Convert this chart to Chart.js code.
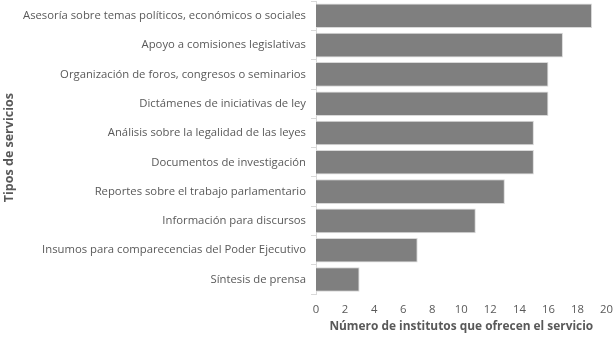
<!DOCTYPE html>
<html>
<head>
<meta charset="utf-8">
<script src="https://cdn.jsdelivr.net/npm/chart.js@4"></script>
<style>
  html, body { margin: 0; padding: 0; background: #ffffff; }
  #wrap { width: 615px; height: 340px; position: relative; }
</style>
</head>
<body>
<div id="wrap"><canvas id="servicios"></canvas></div>
<script>
// Tipos de servicios y número de institutos
var categorias = [
    'Asesoría sobre temas políticos, económicos o sociales',
    'Apoyo a comisiones legislativas',
    'Organización de foros, congresos o seminarios',
    'Dictámenes de iniciativas de ley',
    'Análisis sobre la legalidad de las leyes',
    'Documentos de investigación',
    'Reportes sobre el trabajo parlamentario',
    'Información para discursos',
    'Insumos para comparecencias del Poder Ejecutivo',
    'Síntesis de prensa'
];
var institutos = [19, 17, 16, 16, 15, 15, 13, 11, 7, 3];
var ticksX = [0, 2, 4, 6, 8, 10, 12, 14, 16, 18, 20];

var fuente = "'Open Sans', 'Liberation Sans', sans-serif";

var ctx = document.getElementById('servicios').getContext('2d');
new Chart(ctx, {
    type: 'bar',
    data: {
        labels: categorias,
        datasets: [{
            label: 'Institutos',
            data: institutos,
            backgroundColor: '#7f7f7f',
            borderColor: '#d9d9d9',
            borderWidth: 1,
            categoryPercentage: 1.0,
            barPercentage: 0.84
        }]
    },
    options: {
        indexAxis: 'y',
        responsive: true,
        maintainAspectRatio: false,
        animation: false,
        layout: { padding: { top: 1, right: 2, bottom: 6, left: 2 } },
        plugins: {
            legend: { display: false },
            tooltip: { enabled: false }
        },
        scales: {
            x: {
                min: 0,
                max: 20,
                afterBuildTicks: function (axis) {
                    axis.ticks = ticksX.map(function (v) { return { value: v }; });
                },
                grid: { display: false, drawTicks: true, tickLength: 7 },
                border: { display: false },
                ticks: {
                    color: '#595959',
                    font: { family: fuente, size: 11.3 },
                    padding: 2
                },
                title: {
                    display: true,
                    text: 'Número de institutos que ofrecen el servicio',
                    color: '#595959',
                    font: { family: fuente, size: 11.9, weight: 'bold' },
                    padding: { top: 1, bottom: 0 }
                }
            },
            y: {
                // el eje ocupa más de la mitad del ancho
                afterFit: function (axis) {
                    axis.width = 314;
                },
                grid: {
                    offset: true,
                    drawOnChartArea: false,
                    drawTicks: true,
                    tickLength: 10,
                    // solo se ve la parte de la marca junto al eje
                    tickBorderDash: [5, 5],
                    tickBorderDashOffset: 5,
                    color: '#d9d9d9'
                },
                border: { display: true, color: '#d9d9d9' },
                ticks: {
                    color: '#595959',
                    font: { family: fuente, size: 11.3, lineHeight: 0.2 },
                    padding: 0
                },
                title: {
                    display: true,
                    text: 'Tipos de servicios',
                    color: '#595959',
                    font: { family: fuente, size: 12.5, weight: 'bold' },
                    padding: { top: 0, bottom: 4 }
                }
            }
        }
    }
});
</script>
</body>
</html>
